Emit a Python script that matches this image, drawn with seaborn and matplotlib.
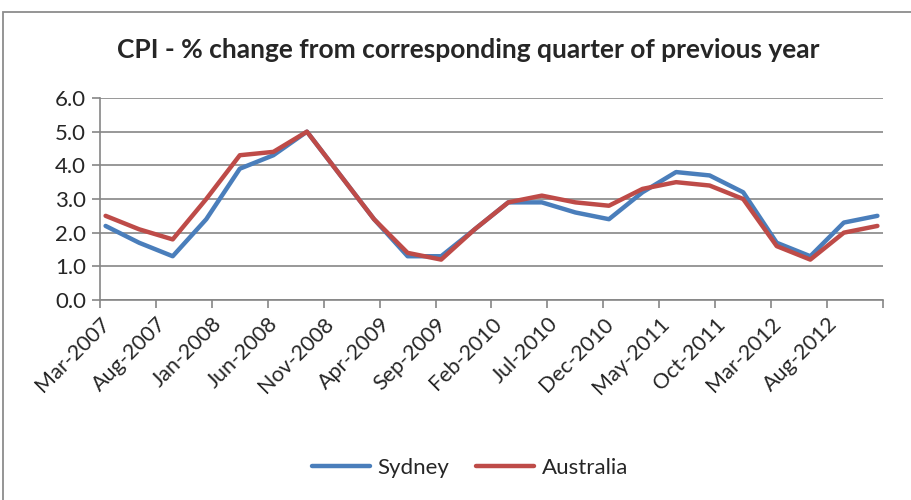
import pandas as pd
import matplotlib.pyplot as plt
import seaborn as sns
from matplotlib.patches import Rectangle

# quarterly CPI, % change from corresponding quarter of previous year
quarters = pd.date_range("2007-03-01", periods=24, freq="3MS")
sydney = [2.2, 1.7, 1.3, 2.4, 3.9, 4.3, 5.0, 3.7, 2.4, 1.3, 1.3, 2.1,
          2.9, 2.9, 2.6, 2.4, 3.2, 3.8, 3.7, 3.2, 1.7, 1.3, 2.3, 2.5]
australia = [2.5, 2.1, 1.8, 3.0, 4.3, 4.4, 5.0, 3.7, 2.4, 1.4, 1.2, 2.1,
             2.9, 3.1, 2.9, 2.8, 3.3, 3.5, 3.4, 3.0, 1.6, 1.2, 2.0, 2.2]
tick_dates = pd.date_range("2007-03-01", periods=15, freq="5MS")

start = quarters[0]
def month_index(d):
    return (d.year - start.year) * 12 + (d.month - start.month)

# points sit in the middle of their month slot (date axis, between tick marks)
months = [month_index(d) + 0.5 for d in quarters]
df = pd.DataFrame({
    "month": months * 2,
    "value": sydney + australia,
    "series": ["Sydney"] * 24 + ["Australia"] * 24,
})

sns.set_style("white")
plt.rcParams["font.family"] = ["Lato", "DejaVu Sans"]

fig = plt.figure(figsize=(9.12, 5.0), dpi=100)
ax = fig.add_axes([100 / 912, 200 / 500, 783 / 912, 202 / 500])

sns.lineplot(data=df, x="month", y="value", hue="series", ax=ax,
             palette={"Sydney": "#4A7EBB", "Australia": "#BE4B48"},
             linewidth=3.2, legend=True)

ax.set_xlim(0, 70)
ax.set_ylim(0, 6)
ax.set_yticks([0, 1, 2, 3, 4, 5, 6])
ax.set_yticklabels([f"{v:.1f}" for v in range(7)], fontsize=16)
xt = [month_index(d) for d in tick_dates]
labels = [d.strftime("%b-%Y") for d in tick_dates]
labels[-1] = ""
ax.set_xticks(xt)
ax.set_xticklabels(labels, rotation=45, ha="right", rotation_mode="anchor",
                   fontsize=15.5)
ax.set_xlabel("")
ax.set_ylabel("")
ax.grid(axis="y", color="#868686", linewidth=1.2)
ax.set_axisbelow(True)
for s in ["top", "right"]:
    ax.spines[s].set_visible(False)
for s in ["left", "bottom"]:
    ax.spines[s].set_color("#868686")
    ax.spines[s].set_linewidth(1.2)
ax.tick_params(axis="both", direction="out", color="#868686", length=6,
               width=1.2, left=True, bottom=True, pad=4)

ax.legend(loc="center", bbox_to_anchor=(470 / 912, 32 / 500),
          bbox_transform=fig.transFigure, ncol=2, frameon=False,
          fontsize=16, handlelength=2.6, handletextpad=0.35,
          columnspacing=1.2)

fig.text(468 / 912, 1 - 50 / 500,
         "CPI - % change from corresponding quarter of previous year",
         ha="center", va="center", fontsize=19, fontweight="bold")

# outer chart border
fig.patches.append(Rectangle((3 / 912, -0.1), 1.2, 1.1 - 12 / 500,
                             transform=fig.transFigure, fill=False,
                             edgecolor="#8C8C8C", linewidth=1.3))

fig.savefig("out.png", dpi=100)
